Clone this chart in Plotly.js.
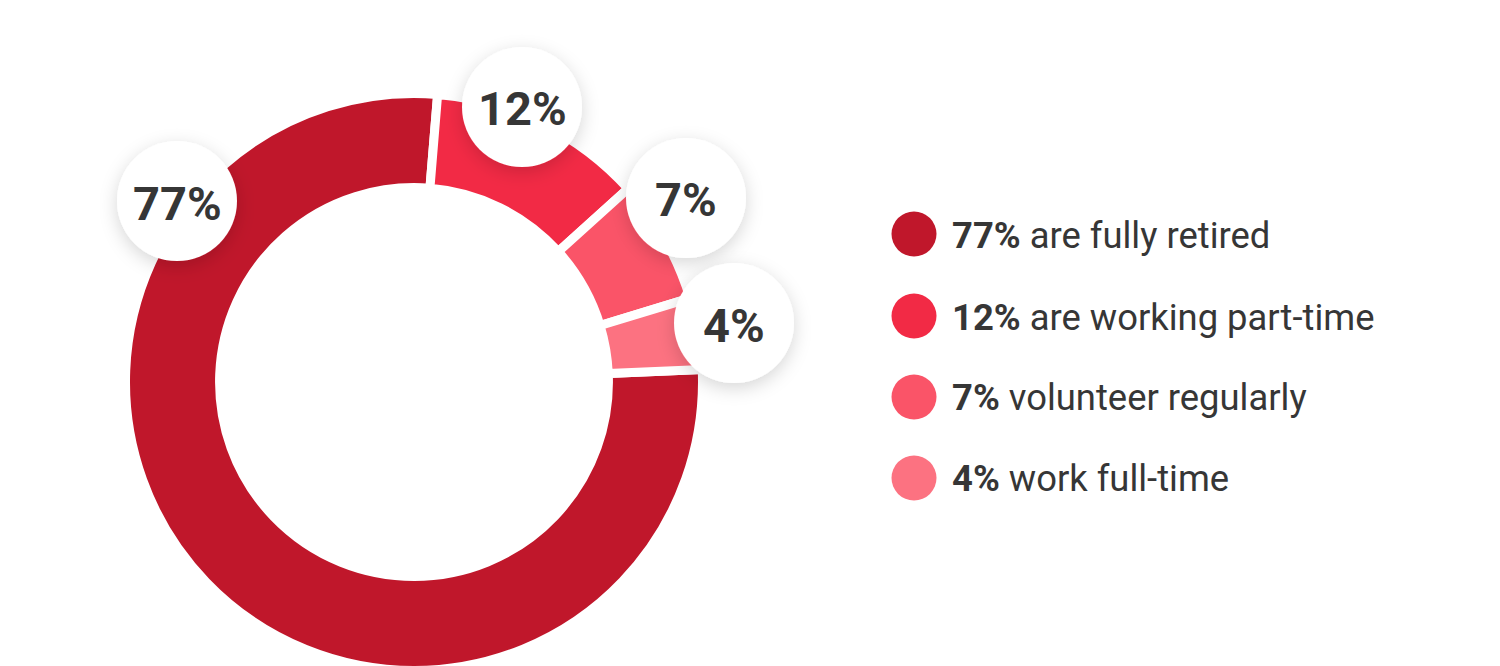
<!DOCTYPE html>
<html>
<head>
<meta charset="utf-8">
<script src="https://cdn.plot.ly/plotly-3.0.1.min.js"></script>
<style>html,body{margin:0;padding:0;background:#fff;overflow:hidden;}#chart{width:1500px;height:680px;}</style>
</head>
<body>
<div id="chart"></div>
<script>
// ---- data ----
const percents = [77, 12, 7, 4];
const descriptions = ['are fully retired', 'are working part-time', 'volunteer regularly', 'work full-time'];
const sliceColors = ['#C0172B', '#F22A45', '#FA5468', '#FC7281'];
const valueLabels = ['77%', '12%', '7%', '4%'];

// ---- layout helpers (pixel geometry; canvas slightly taller than the 666px view so the ring is cropped at the bottom) ----
const W = 1500, H = 680;
const cx = 414, cy = 382, R = 288.5;
const px = x => x / W;
const py = y => (H - y) / H;

const pie = {
  type: 'pie',
  values: percents,
  labels: descriptions,
  sort: false,
  direction: 'clockwise',
  rotation: 87.5,
  hole: 0.674,
  textinfo: 'none',
  hoverinfo: 'none',
  showlegend: false,
  marker: { colors: sliceColors, line: { color: '#ffffff', width: 9 } },
  domain: { x: [px(cx - R), px(cx + R)], y: [py(cy + R), py(cy - R)] }
};

// value bubbles around the ring
const bubbleCenters = [[177, 201], [522, 107], [686, 198], [734, 323]];
const shapes = [];
const annotations = [];
bubbleCenters.forEach((c, i) => {
  shapes.push({
    type: 'circle', layer: 'above', xref: 'paper', yref: 'paper',
    xsizemode: 'pixel', ysizemode: 'pixel',
    xanchor: px(c[0]), yanchor: py(c[1]),
    x0: -60, x1: 60, y0: -60, y1: 60,
    fillcolor: '#ffffff', line: { width: 0 }
  });
  annotations.push({
    xref: 'paper', yref: 'paper', x: px(c[0]), y: py(c[1] + 2),
    xanchor: 'center', yanchor: 'middle', showarrow: false,
    text: '<b>' + valueLabels[i] + '</b>',
    font: { family: 'Roboto', size: 47, color: '#363636' }
  });
});

// custom legend
const legendY = [234, 316, 397, 478];
percents.forEach((p, i) => {
  shapes.push({
    type: 'circle', layer: 'above', xref: 'paper', yref: 'paper',
    xsizemode: 'pixel', ysizemode: 'pixel',
    xanchor: px(914), yanchor: py(legendY[i]),
    x0: -22.5, x1: 22.5, y0: -22.5, y1: 22.5,
    fillcolor: sliceColors[i], line: { width: 0 }
  });
  annotations.push({
    xref: 'paper', yref: 'paper', x: px(950), y: py(legendY[i] + 1),
    xanchor: 'left', yanchor: 'middle', showarrow: false,
    text: '<b>' + p + '%</b> ' + descriptions[i],
    font: { family: 'Roboto', size: 36.4, color: '#363636' }
  });
});

const layout = {
  width: W, height: H,
  margin: { l: 0, r: 0, t: 0, b: 0 },
  paper_bgcolor: '#ffffff', plot_bgcolor: '#ffffff',
  showlegend: false,
  shapes: shapes,
  annotations: annotations
};

Plotly.newPlot('chart', [pie], layout, { staticPlot: true }).then(() => {
  const svg = document.querySelector('#chart .main-svg');
  const ns = 'http://www.w3.org/2000/svg';
  let defs = svg.querySelector('defs');
  if (!defs) { defs = document.createElementNS(ns, 'defs'); svg.insertBefore(defs, svg.firstChild); }
  const f = document.createElementNS(ns, 'filter');
  f.setAttribute('id', 'bubbleShadow');
  f.setAttribute('x', '-50%'); f.setAttribute('y', '-50%');
  f.setAttribute('width', '200%'); f.setAttribute('height', '200%');
  const ds = document.createElementNS(ns, 'feDropShadow');
  ds.setAttribute('dx', '0'); ds.setAttribute('dy', '5');
  ds.setAttribute('stdDeviation', '9');
  ds.setAttribute('flood-color', '#000'); ds.setAttribute('flood-opacity', '0.16');
  f.appendChild(ds); defs.appendChild(f);
  const paths = document.querySelectorAll('#chart .shapelayer path');
  paths.forEach((p, idx) => { if (idx < bubbleCenters.length) p.setAttribute('filter', 'url(#bubbleShadow)'); });
});
</script>
</body>
</html>
